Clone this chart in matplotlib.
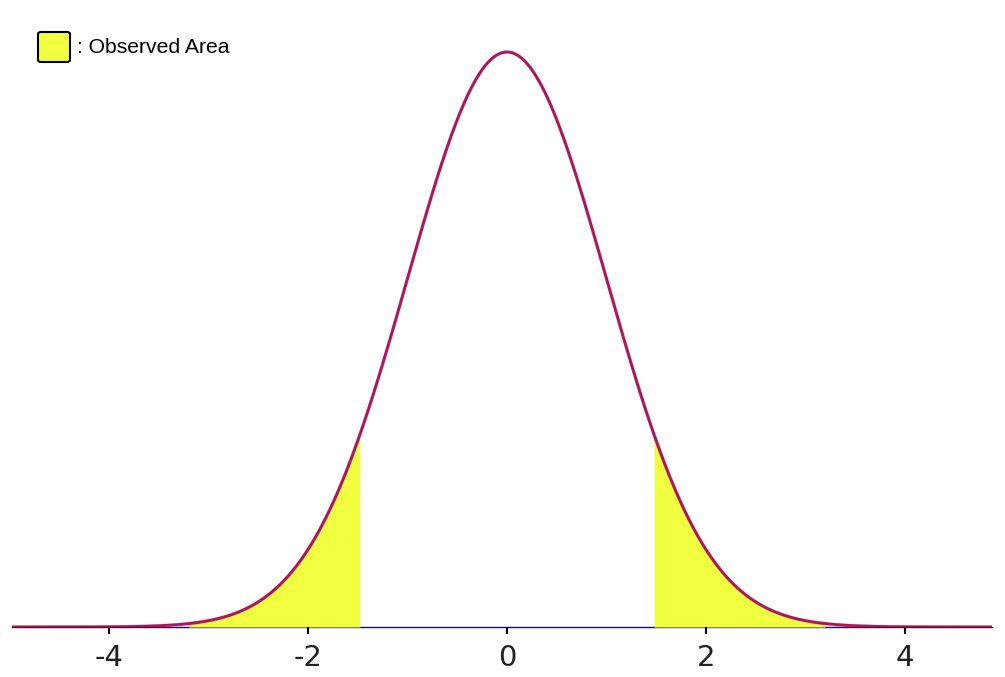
import numpy as np
import matplotlib
matplotlib.use("Agg")
import matplotlib.pyplot as plt
from matplotlib.patches import FancyBboxPatch

# Data
mu = 0.0
sigma = 1.0
x_range = [-4.98, 4.88]
shade_left = [-3.2, -1.48]
shade_right = [1.48, 3.2]
tick_values = [-4, -2, 0, 2, 4]
tick_labels = ["-4", "-2", "0", "2", "4"]
legend_label = ": Observed Area"

curve_color = "#B3134F"
fill_color = "#F0FF40"

def pdf(x):
    return np.exp(-0.5 * ((x - mu) / sigma) ** 2) / (sigma * np.sqrt(2 * np.pi))

W, H = 1005, 677
fig = plt.figure(figsize=(W / 100, H / 100), dpi=100)
ax_left, ax_right = 12, 992
ax_bottom_px, ax_top_px = 627, 20
ax = fig.add_axes([ax_left / W, (H - ax_bottom_px) / H,
                   (ax_right - ax_left) / W, (ax_bottom_px - ax_top_px) / H])
peak_px = 52
ymax = pdf(mu) * (ax_bottom_px - ax_top_px) / (ax_bottom_px - peak_px)

xs = np.linspace(x_range[0], x_range[1], 2000)
for a, b in (shade_left, shade_right):
    xf = np.linspace(a, b, 400)
    ax.fill_between(xf, 0, pdf(xf), color=fill_color, linewidth=0, zorder=1)

ax.plot(xs, pdf(xs), color="#3030D0", linewidth=2.6, zorder=2, alpha=0.3)
ax.plot(xs, pdf(xs), color=curve_color, linewidth=2.0, zorder=3)

ax.set_xlim(x_range)
ax.set_ylim(0, ymax)
for s in ["top", "right", "left"]:
    ax.spines[s].set_visible(False)
ax.spines["bottom"].set_color("#0000E0")
ax.spines["bottom"].set_linewidth(1.0)
ax.spines["bottom"].set_zorder(0.5)
ax.set_yticks([])
ax.set_xticks(tick_values)
ax.set_xticklabels(tick_labels, fontsize=21, color="#222222", family="DejaVu Sans")
ax.tick_params(axis="x", direction="out", length=5, width=1.5, color="black", pad=7)
ax.patch.set_alpha(0)

# Legend
box = FancyBboxPatch((38 / W, 1 - 62 / H), 32 / W, 30 / H,
                     boxstyle="round,pad=0,rounding_size=0.003",
                     transform=fig.transFigure, facecolor=fill_color,
                     edgecolor="black", linewidth=1.5)
fig.patches.append(box)
fig.text(77 / W, 1 - 47.5 / H, legend_label, fontsize=15.2, family="Liberation Sans",
         va="center", ha="left", color="black")

fig.savefig("out.png", dpi=100)
